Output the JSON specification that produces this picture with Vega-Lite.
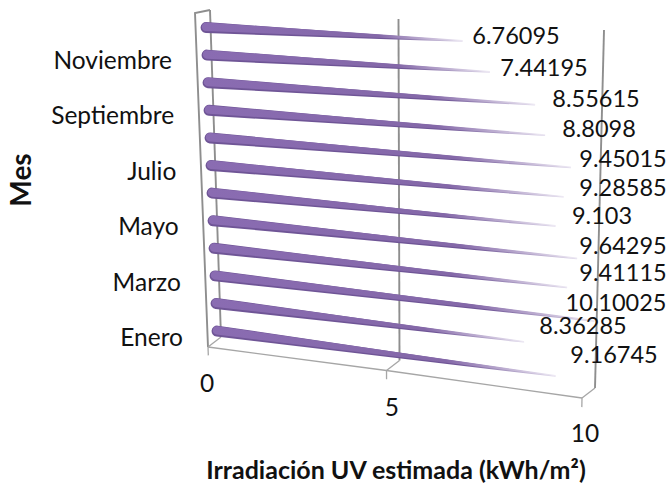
{"$schema":"https://vega.github.io/schema/vega-lite/v6.json","width":669,"height":485,"padding":0,"autosize":{"type":"none"},"background":"white","config":{"view":{"stroke":null}},
"datasets":{"meses":[
{"mes":"Enero","i":0,"valor":9.16745},{"mes":"Febrero","i":1,"valor":8.36285},{"mes":"Marzo","i":2,"valor":10.10025},{"mes":"Abril","i":3,"valor":9.41115},{"mes":"Mayo","i":4,"valor":9.64295},{"mes":"Junio","i":5,"valor":9.103},{"mes":"Julio","i":6,"valor":9.28585},{"mes":"Agosto","i":7,"valor":9.45015},{"mes":"Septiembre","i":8,"valor":8.8098},{"mes":"Octubre","i":9,"valor":8.55615},{"mes":"Noviembre","i":10,"valor":7.44195},{"mes":"Diciembre","i":11,"valor":6.76095}],
"muros":[
{"tramo":"a0","valor":0,"nivel":0,"prof":1},{"tramo":"a0","valor":0,"nivel":1,"prof":1},
{"tramo":"a5","valor":5,"nivel":0,"prof":1},{"tramo":"a5","valor":5,"nivel":1,"prof":1},
{"tramo":"a10","valor":10,"nivel":0,"prof":1},{"tramo":"a10","valor":10,"nivel":1,"prof":1},
{"tramo":"izq","valor":0,"nivel":0,"prof":0},{"tramo":"izq","valor":0,"nivel":1,"prof":0},{"tramo":"izq","valor":0,"nivel":1,"prof":1}],
"suelo":[
{"tramo":"suelo","valor":0,"nivel":0,"prof":0},{"tramo":"suelo","valor":5,"nivel":0,"prof":0},{"tramo":"suelo","valor":10,"nivel":0,"prof":0},
{"tramo":"s0","valor":0,"nivel":0,"prof":0},{"tramo":"s0","valor":0,"nivel":0,"prof":1},
{"tramo":"s5","valor":5,"nivel":0,"prof":0},{"tramo":"s5","valor":5,"nivel":0,"prof":1},
{"tramo":"s10","valor":10,"nivel":0,"prof":0},{"tramo":"s10","valor":10,"nivel":0,"prof":1},
{"tramo":"t0","valor":0,"nivel":0,"prof":0},{"tramo":"t0","valor":0,"nivel":-0.025,"prof":0},
{"tramo":"t5","valor":5,"nivel":0,"prof":0},{"tramo":"t5","valor":5,"nivel":-0.025,"prof":0},
{"tramo":"t10","valor":10,"nivel":0,"prof":0},{"tramo":"t10","valor":10,"nivel":-0.025,"prof":0}],
"ticks":[{"valor":0},{"valor":5},{"valor":10}]},
"layer":[
{"data":{"name":"muros"},"transform":[
{"calculate":"208+13*datum.prof-13*datum.nivel+2*datum.prof*datum.nivel+(34+2*datum.nivel)*datum.valor+0.34*datum.valor*datum.valor","as":"px"},
{"calculate":"347-10*datum.prof-334*datum.nivel+7*datum.prof*datum.nivel+(4.3-2.7*datum.nivel)*datum.valor+(0.08-0.04*datum.nivel)*datum.valor*datum.valor","as":"py"}],
"mark":{"type":"line","color":"#8e8e8e","strokeWidth":1.9,"interpolate":"linear"},
"encoding":{"x":{"field":"px","type":"quantitative","scale":{"domain":[0,669],"range":[0,669]},"axis":null},"y":{"field":"py","type":"quantitative","scale":{"domain":[0,485],"range":[0,485]},"axis":null},"detail":{"field":"tramo"},"order":{"field":"nivel","type":"quantitative"}}},
{"data":{"name":"suelo"},"transform":[
{"calculate":"208+13*datum.prof-13*datum.nivel+2*datum.prof*datum.nivel+(34+2*datum.nivel)*datum.valor+0.34*datum.valor*datum.valor","as":"px"},
{"calculate":"347-10*datum.prof-334*datum.nivel+7*datum.prof*datum.nivel+(4.3-2.7*datum.nivel)*datum.valor+(0.08-0.04*datum.nivel)*datum.valor*datum.valor","as":"py"}],
"mark":{"type":"line","color":"#a6a6a6","strokeWidth":1.3,"interpolate":"linear"},
"encoding":{"x":{"field":"px","type":"quantitative","scale":{"domain":[0,669],"range":[0,669]},"axis":null},"y":{"field":"py","type":"quantitative","scale":{"domain":[0,485],"range":[0,485]},"axis":null},"detail":{"field":"tramo"},"order":{"field":"valor","type":"quantitative"}}},
{"data":{"name":"meses"},"transform":[
{"calculate":"0","as":"cero"},{"fold":["cero","valor"],"as":["extremo","v"]},
{"calculate":"0.033+0.0835*datum.i","as":"t"},
{"calculate":"217.5-12*datum.t+(33.7+2*datum.t)*datum.v+0.34*datum.v*datum.v","as":"px"},
{"calculate":"342-330.5*datum.t+(4.3-2.7*datum.t)*datum.v+(0.08-0.04*datum.t)*datum.v*datum.v","as":"py"},
{"calculate":"datum.extremo=='cero'?11:0","as":"ancho"}],
"mark":{"type":"trail","color":{"x1":0,"x2":1,"y1":0,"y2":0,"gradient":"linear","stops":[{"offset":0,"color":"#6f5596"},{"offset":0.72,"color":"#6f5596"},{"offset":1,"color":"#e4deee"}]}},
"encoding":{"x":{"field":"px","type":"quantitative","scale":{"domain":[0,669],"range":[0,669]},"axis":null},"y":{"field":"py","type":"quantitative","scale":{"domain":[0,485],"range":[0,485]},"axis":null},"size":{"field":"ancho","type":"quantitative","scale":{"domain":[0,11],"range":[0,11]},"legend":null},"detail":{"field":"mes"},"order":{"field":"v","type":"quantitative"}}},
{"data":{"name":"meses"},"transform":[
{"calculate":"0","as":"cero"},{"fold":["cero","valor"],"as":["extremo","v"]},
{"calculate":"0.033+0.0835*datum.i","as":"t"},
{"calculate":"217.5-12*datum.t+(33.7+2*datum.t)*datum.v+0.34*datum.v*datum.v","as":"px"},
{"calculate":"342-330.5*datum.t+(4.3-2.7*datum.t)*datum.v+(0.08-0.04*datum.t)*datum.v*datum.v-0.7","as":"py"},
{"calculate":"datum.extremo=='cero'?8.5:0","as":"ancho"}],
"mark":{"type":"trail","color":{"x1":0,"x2":1,"y1":0,"y2":0,"gradient":"linear","stops":[{"offset":0,"color":"#8a6cb2"},{"offset":0.68,"color":"#8468a8"},{"offset":1,"color":"#eeeaf4"}]}},
"encoding":{"x":{"field":"px","type":"quantitative","scale":{"domain":[0,669],"range":[0,669]},"axis":null},"y":{"field":"py","type":"quantitative","scale":{"domain":[0,485],"range":[0,485]},"axis":null},"size":{"field":"ancho","type":"quantitative","scale":{"domain":[0,11],"range":[0,11]},"legend":null},"detail":{"field":"mes"},"order":{"field":"v","type":"quantitative"}}},
{"data":{"name":"meses"},"transform":[
{"calculate":"{'Enero':614,'Febrero':583,'Marzo':616,'Abril':623,'Mayo':623,'Junio':602,'Julio':623,'Agosto':623,'Septiembre':599,'Octubre':596,'Noviembre':544,'Diciembre':516}[datum.mes]","as":"px"},
{"calculate":"{'Enero':356,'Febrero':327,'Marzo':304,'Abril':274,'Mayo':247,'Junio':217,'Julio':189,'Agosto':160,'Septiembre':130,'Octubre':100,'Noviembre':69,'Diciembre':37}[datum.mes]","as":"py"}],
"mark":{"type":"text","font":"Lato","fontSize":23.5,"color":"#111111","align":"center","baseline":"middle"},
"encoding":{"x":{"field":"px","type":"quantitative","scale":{"domain":[0,669],"range":[0,669]},"axis":null},"y":{"field":"py","type":"quantitative","scale":{"domain":[0,485],"range":[0,485]},"axis":null},"text":{"field":"valor","type":"nominal"}}},
{"data":{"name":"meses"},"transform":[{"filter":"datum.i%2==0"},
{"calculate":"183-1.1*datum.i","as":"px"},{"calculate":"339-27.7*datum.i","as":"py"}],
"mark":{"type":"text","font":"Lato","fontSize":24.5,"color":"#111111","align":"right","baseline":"middle"},
"encoding":{"x":{"field":"px","type":"quantitative","scale":{"domain":[0,669],"range":[0,669]},"axis":null},"y":{"field":"py","type":"quantitative","scale":{"domain":[0,485],"range":[0,485]},"axis":null},"text":{"field":"mes","type":"nominal"}}},
{"data":{"name":"ticks"},"transform":[
{"calculate":"207+36.1*datum.valor+0.17*datum.valor*datum.valor","as":"px"},
{"calculate":"385+4.6*datum.valor+0.04*datum.valor*datum.valor","as":"py"}],
"mark":{"type":"text","font":"Lato","fontSize":24.5,"color":"#111111","align":"center","baseline":"middle"},
"encoding":{"x":{"field":"px","type":"quantitative","scale":{"domain":[0,669],"range":[0,669]},"axis":null},"y":{"field":"py","type":"quantitative","scale":{"domain":[0,485],"range":[0,485]},"axis":null},"text":{"field":"valor","type":"nominal"}}},
{"data":{"values":[{"titulo":"Irradiación UV estimada (kWh/m²)","cx":396,"cy":471}]},
"mark":{"type":"text","font":"Lato","fontSize":25,"fontWeight":"bold","color":"#111111","align":"center","baseline":"middle"},
"encoding":{"x":{"field":"cx","type":"quantitative","scale":{"domain":[0,669],"range":[0,669]},"axis":null},"y":{"field":"cy","type":"quantitative","scale":{"domain":[0,485],"range":[0,485]},"axis":null},"text":{"field":"titulo","type":"nominal"}}},
{"data":{"values":[{"titulo":"Mes","cx":23,"cy":180}]},
"mark":{"type":"text","font":"Lato","fontSize":28,"fontWeight":"bold","color":"#111111","align":"center","baseline":"middle","angle":270},
"encoding":{"x":{"field":"cx","type":"quantitative","scale":{"domain":[0,669],"range":[0,669]},"axis":null},"y":{"field":"cy","type":"quantitative","scale":{"domain":[0,485],"range":[0,485]},"axis":null},"text":{"field":"titulo","type":"nominal"}}}
]}
